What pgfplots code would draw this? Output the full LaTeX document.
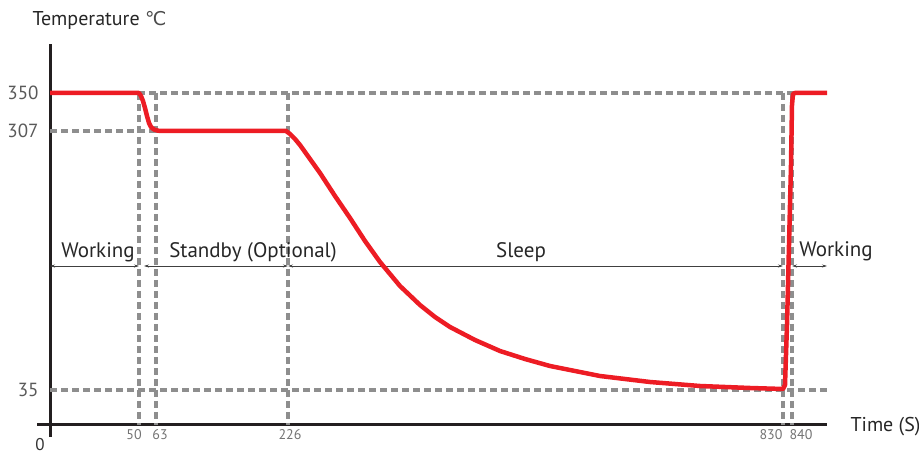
\documentclass[border=0pt]{standalone}
\usepackage{pgfplots}
\pgfplotsset{compat=1.18}
\usetikzlibrary{arrows.meta}
\usepackage{fontspec}
\setmainfont{PT Sans}
\newfontfamily\symfont{DejaVu Sans}
\definecolor{curvered}{HTML}{ED1C24}
\definecolor{guide}{HTML}{8E8E8E}
\definecolor{axisblack}{HTML}{231F20}
\tikzset{
  guides/.style={guide, line width=3.2pt, dash pattern=on 7pt off 4pt},
  phase/.style={black!75, line width=0.6pt, {Stealth[length=5pt,width=3pt]}-{Stealth[length=5pt,width=3pt]}},
  phasetext/.style={anchor=base, font=\fontsize{21}{24}\selectfont, text=black!85},
}
\begin{document}
\begin{tikzpicture}
  \begin{axis}[
    x=1pt, y=1pt,
    xmin=-13, xmax=777, ymin=-12, ymax=381,
    axis lines=middle,
    axis line style={-, line width=3pt, axisblack},
    clip=false,
    major tick length=0pt,
    % labels sit at their printed spots (ticks themselves are not drawn)
    xtick={84,110,240,721,751},
    xticklabels={50,63,226,830,840},
    ytick={35,294,332},
    yticklabels={35,307,350},
    xticklabel style={font=\fontsize{14}{16}\selectfont, text=black!55, yshift=-1pt},
    yticklabel style={font=\fontsize{19}{21}\selectfont, text=black!65, xshift=-8pt},
    /pgf/number format/assume math mode=true,
  ]
    % bounding box of the whole picture (919 x 455)
    \path[use as bounding box] (axis cs:-50,-30) rectangle (axis cs:869,425);

    % guide lines
    \addplot[guides] coordinates {(0,332) (777,332)};
    \addplot[guides] coordinates {(0,294) (238,294)};
    \addplot[guides] coordinates {(0,35) (777,35)};
    \addplot[guides] coordinates {(89,332) (89,0)};
    \addplot[guides] coordinates {(106,332) (106,0)};
    \addplot[guides] coordinates {(238,332) (238,0)};
    \addplot[guides] coordinates {(733,332) (733,0)};
    \addplot[guides] coordinates {(742,332) (742,0)};

    % phase arrows
    \addplot[phase] coordinates {(0,159) (89,159)};
    \addplot[phase] coordinates {(94,159) (238,159)};
    \addplot[phase] coordinates {(238,159) (733,159)};
    \addplot[phase] coordinates {(742,159) (777,159)};

    % temperature curve
    \addplot[curvered, line width=4.5pt, line join=round] coordinates {
      (0,332) (89,332) (91,329) (93,324) (95,317) (97,309) (99,302)
      (101,298) (104,295.5) (108,294.3) (112,294)
      (236,294) (240,291) (245,286) (250,280) (260,266) (270,252)
      (285,229) (300,207) (315,184) (330,163) (350,139) (370,120)
      (385,108) (400,98) (425,85) (450,74) (475,66) (500,59)
      (525,54) (550,49) (575,46) (600,43) (625,41) (650,39)
      (675,38) (700,37) (733,36)
      (735,40) (737,100) (739,180) (741,260) (742,320) (743,331) (745,332) (777,332)};

    % texts
    \node[anchor=base west, font=\fontsize{20}{24}\selectfont, text=black!85] at (axis cs:-21,399) {Temperature {\symfont\fontsize{19}{22}\selectfont\color{black!70}℃}};
    \node[anchor=base west, font=\fontsize{20}{24}\selectfont, text=black!85] at (axis cs:797,-7) {Time (S)};
    \node[font=\fontsize{17}{18}\selectfont, text=black!80, inner sep=0pt] at (axis cs:-10,-20) {0};
    \node[phasetext] at (axis cs:48,167) {Working};
    \node[phasetext] at (axis cs:203,167) {Standby (Optional)};
    \node[phasetext] at (axis cs:471,167) {Sleep};
    \node[phasetext] at (axis cs:786,168) {Working};
  \end{axis}
\end{tikzpicture}
\end{document}
